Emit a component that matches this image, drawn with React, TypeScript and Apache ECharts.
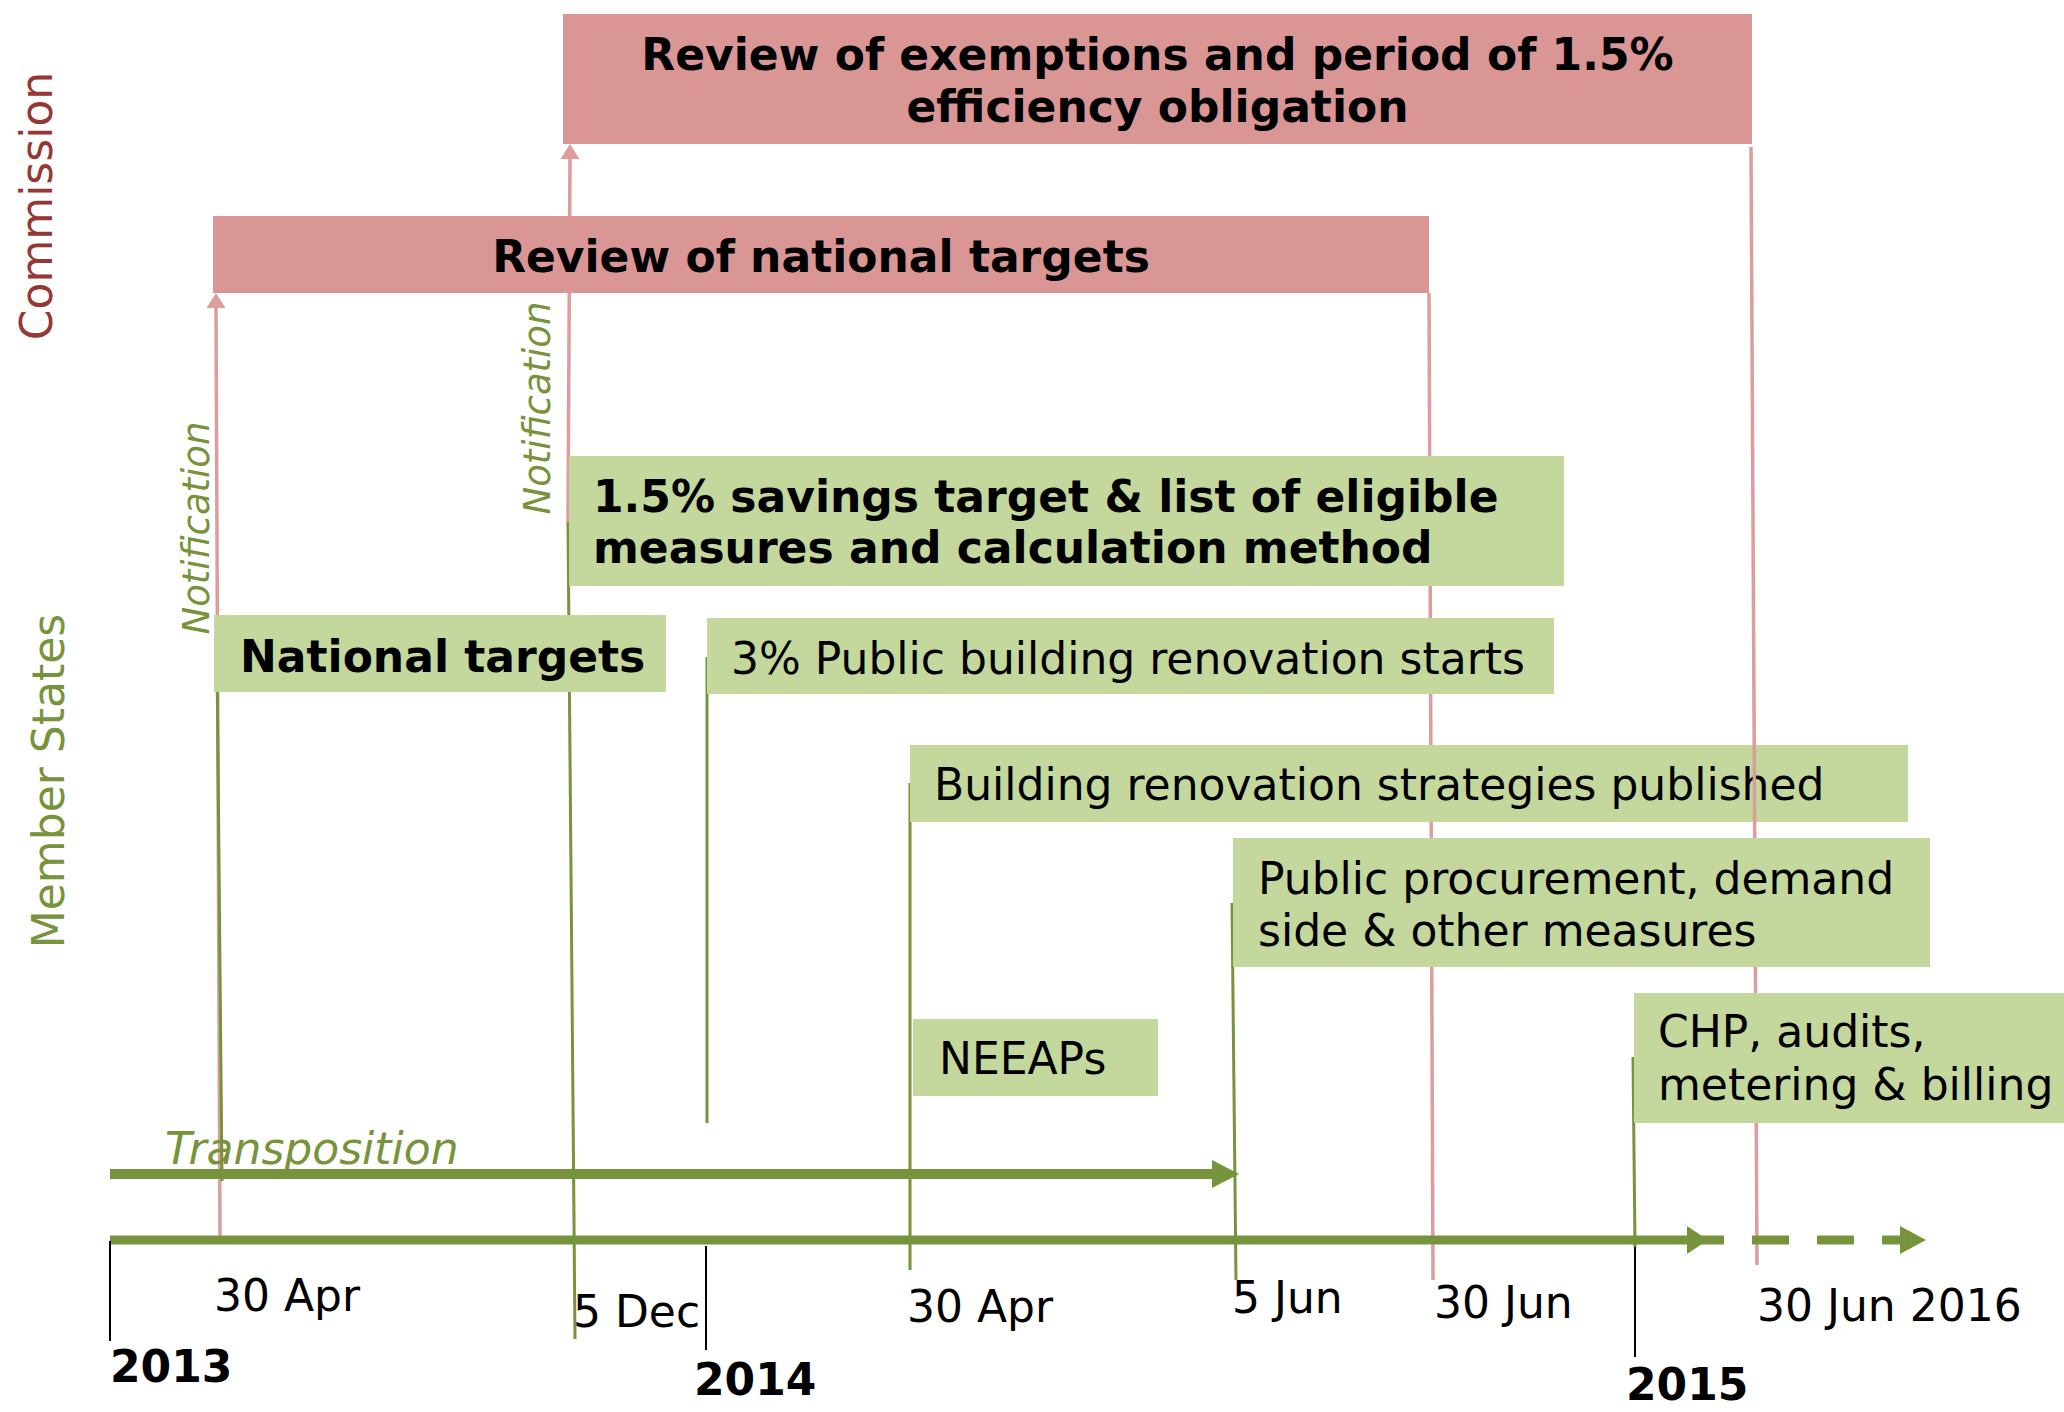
import React, { useEffect, useRef } from 'react';
import * as echarts from 'echarts';

// Reference canvas size (timeline units == reference pixels)
const W = 2064;
const H = 1412;

// ---------------- DATA ----------------
// Milestone date labels along the timeline
const milestoneDates = ['30 Apr', '5 Dec', '30 Apr', '5 Jun', '30 Jun', '30 Jun 2016'];
const milestoneLabelX = [214, 573, 907, 1232, 1434, 1757];
const milestoneLabelY = [1311, 1327, 1322, 1313, 1318, 1321];

// Year ticks
const years = ['2013', '2014', '2015'];
const yearTickX = [110, 706, 1635];
const yearTickTop = [1241, 1246, 1247];
const yearTickBottom = [1341, 1350, 1357];
const yearLabelX = [110, 694, 1626];
const yearLabelY = [1382, 1395, 1400];

// Commission actions (pink bars)
const commissionTitles = [
  ['Review of exemptions and period of 1.5%', 'efficiency obligation'],
  ['Review of national targets'],
];
const commissionStart = [563, 213];
const commissionEnd = [1752, 1429];
const commissionTop = [14, 216];
const commissionBottom = [144, 293];
const commissionBaselines = [[70, 122], [272]];

// Member State actions (green bars)
const msTitles = [
  ['1.5% savings target & list of eligible', 'measures and calculation method'],
  ['National targets'],
  ['3% Public building renovation starts'],
  ['Building renovation strategies published'],
  ['Public procurement, demand', 'side & other measures'],
  ['NEEAPs'],
  ['CHP, audits,', 'metering & billing'],
];
const msStart = [569, 214, 707, 910, 1233, 913, 1634];
const msEnd = [1564, 666, 1554, 1908, 1930, 1158, 2064];
const msTop = [456, 615, 618, 745, 838, 1019, 993];
const msBottom = [586, 692, 694, 822, 967, 1096, 1123];
const msTextX = [593, 240, 731, 934, 1258, 939, 1658];
const msBaselines = [[512, 563], [672], [674], [800], [894, 946], [1074], [1047, 1100]];
const msBold = [true, true, false, false, false, false, false];
const msBackLayer = [false, false, false, true, false, false, false];

// Commission deadline connectors (pink): bottom point -> top point
const pinkX0 = [220, 568, 1433, 1757];
const pinkY0 = [1240, 522, 1280, 1265];
const pinkX1 = [216, 570, 1429, 1751];
const pinkY1 = [293, 144, 293, 147];
const pinkArrow = [true, true, false, false];
const pinkFront = [false, false, false, true];

// Member State deadline connectors (green): top point -> bottom point
const greenX0 = [217, 568, 707, 910, 1232, 1633];
const greenY0 = [654, 522, 657, 783, 903, 1057];
const greenX1 = [222, 575, 707, 910, 1236, 1635];
const greenY1 = [1181, 1339, 1123, 1270, 1280, 1247];

// Timeline arrows
const mainLineY = 1240;
const mainStart = 110;
const mainSolidEnd = 1687;
const mainDashEnd = 1900;
const transpositionY = 1174;
const transpositionStart = 110;
const transpositionEnd = 1212;

// Side / rotated labels
const sideLabels = ['Commission', 'Member States'];
const sideLabelBaseX = [52, 64];
const sideLabelCenterY = [206, 781];
const notificationBaseX = [209, 550];
const notificationCenterY = [528, 408];
const transpositionLabel = 'Transposition';
const transpositionLabelX = 165;
const transpositionLabelY = 1164;

// ---------------- STYLES ----------------
const PINK_FILL = '#d99694';
const PINK_LINE = '#dd9d9c';
const GREEN_FILL = '#c4d79c';
const GREEN = '#77933c';
const RED_TEXT = '#953735';
const FONT = '"DejaVu Sans", Verdana, sans-serif';
const FS = 44;

type TextSpec = {
  text: string;
  x: number;
  y: number;
  size: number;
  weight?: string;
  italic?: boolean;
  color: string;
  align: 'left' | 'center' | 'right';
  rotate?: boolean;
};

function textEl(api: any, t: TextSpec) {
  const p = api.coord([t.x, t.y]);
  const off = 0.346 * t.size;
  let x = p[0];
  let y = p[1];
  if (t.rotate) x = p[0] - off;
  else y = p[1] - off;
  return {
    type: 'text',
    x,
    y,
    rotation: t.rotate ? Math.PI / 2 : 0,
    style: {
      text: t.text,
      fill: t.color,
      fontSize: t.size,
      fontFamily: FONT,
      fontWeight: t.weight || 'normal',
      fontStyle: t.italic ? 'italic' : 'normal',
      align: t.align,
      textAlign: t.align,
      verticalAlign: 'middle',
      textVerticalAlign: 'middle',
    },
  };
}

function rectEl(api: any, x0: number, y0: number, x1: number, y1: number, fill: string) {
  const p0 = api.coord([x0, y0]);
  const p1 = api.coord([x1, y1]);
  return {
    type: 'rect',
    shape: { x: p0[0], y: p0[1], width: p1[0] - p0[0], height: p1[1] - p0[1] },
    style: { fill },
  };
}

function lineEl(api: any, x0: number, y0: number, x1: number, y1: number, stroke: string, lineWidth: number, dash?: number[]) {
  const p0 = api.coord([x0, y0]);
  const p1 = api.coord([x1, y1]);
  const style: any = { stroke, lineWidth };
  if (dash) style.lineDash = dash;
  return { type: 'line', shape: { x1: p0[0], y1: p0[1], x2: p1[0], y2: p1[1] }, style };
}

function headRight(api: any, xBase: number, y: number, len: number, half: number, fill: string) {
  const b = api.coord([xBase, y]);
  return {
    type: 'polygon',
    shape: { points: [[b[0], b[1] - half], [b[0] + len, b[1]], [b[0], b[1] + half]] },
    style: { fill },
  };
}

function headUp(api: any, x: number, yTip: number, len: number, half: number, fill: string) {
  const t = api.coord([x, yTip]);
  return {
    type: 'polygon',
    shape: { points: [[t[0], t[1]], [t[0] - half, t[1] + len], [t[0] + half, t[1] + len]] },
    style: { fill },
  };
}

const idx = (n: number) => Array.from({ length: n }, (_, i) => i);

function pinkSeries(front: boolean, z: number) {
  const ids = idx(pinkX0.length).filter((i) => pinkFront[i] === front);
  return {
    type: 'custom',
    z,
    silent: true,
    clip: false,
    data: ids.map((i) => [pinkX0[i], pinkY0[i], pinkX1[i], pinkY1[i], i]),
    renderItem: (_p: any, api: any) => {
      const i = api.value(4);
      const children: any[] = [];
      const topY = pinkArrow[i] ? pinkY1[i] + 14 : pinkY1[i];
      children.push(lineEl(api, pinkX0[i], pinkY0[i], pinkX1[i], topY, PINK_LINE, 3.5));
      if (pinkArrow[i]) children.push(headUp(api, pinkX1[i], pinkY1[i], 15, 9.5, PINK_LINE));
      return { type: 'group', children };
    },
  };
}

function msBoxSeries(back: boolean, z: number) {
  const ids = idx(msTitles.length).filter((i) => msBackLayer[i] === back);
  return {
    type: 'custom',
    z,
    silent: true,
    clip: false,
    data: ids.map((i) => [msStart[i], msTop[i], msEnd[i], msBottom[i], i]),
    renderItem: (_p: any, api: any) => {
      const i = api.value(4);
      const children: any[] = [rectEl(api, msStart[i], msTop[i], msEnd[i], msBottom[i], GREEN_FILL)];
      msTitles[i].forEach((t, k) => {
        children.push(
          textEl(api, {
            text: t,
            x: msTextX[i],
            y: msBaselines[i][k],
            size: FS,
            weight: msBold[i] ? 'bold' : 'normal',
            color: '#000',
            align: 'left',
          })
        );
      });
      return { type: 'group', children };
    },
  };
}

const option: any = {
  animation: false,
  backgroundColor: '#ffffff',
  grid: { left: 0, right: 0, top: 0, bottom: 0 },
  xAxis: { type: 'value', min: 0, max: W, show: false },
  yAxis: { type: 'value', min: 0, max: H, inverse: true, show: false },
  series: [
    pinkSeries(false, 1),
    {
      type: 'custom',
      z: 1,
      silent: true,
      clip: false,
      data: idx(greenX0.length).map((i) => [greenX0[i], greenY0[i], greenX1[i], greenY1[i]]),
      renderItem: (_p: any, api: any) =>
        lineEl(api, api.value(0), api.value(1), api.value(2), api.value(3), GREEN, 3),
    },
    msBoxSeries(true, 2),
    pinkSeries(true, 3),
    {
      type: 'custom',
      z: 4,
      silent: true,
      clip: false,
      data: idx(commissionTitles.length).map((i) => [commissionStart[i], commissionTop[i], commissionEnd[i], commissionBottom[i]]),
      renderItem: (p: any, api: any) => {
        const i = p.dataIndex;
        const children: any[] = [rectEl(api, commissionStart[i], commissionTop[i], commissionEnd[i], commissionBottom[i], PINK_FILL)];
        const cx = (commissionStart[i] + commissionEnd[i]) / 2;
        commissionTitles[i].forEach((t, k) => {
          children.push(textEl(api, { text: t, x: cx, y: commissionBaselines[i][k], size: FS, weight: 'bold', color: '#000', align: 'center' }));
        });
        return { type: 'group', children };
      },
    },
    msBoxSeries(false, 4),
    // timeline arrows
    {
      type: 'custom',
      z: 5,
      silent: true,
      clip: false,
      data: [[mainStart, mainLineY, mainDashEnd, transpositionY]],
      renderItem: (_p: any, api: any) => ({
        type: 'group',
        children: [
          lineEl(api, transpositionStart, transpositionY, transpositionEnd, transpositionY, GREEN, 10),
          headRight(api, transpositionEnd, transpositionY, 27, 14, GREEN),
          lineEl(api, mainSolidEnd, mainLineY, mainDashEnd, mainLineY, GREEN, 9, [37, 28]),
          headRight(api, mainDashEnd, mainLineY, 26, 14, GREEN),
          lineEl(api, mainStart, mainLineY, mainSolidEnd, mainLineY, GREEN, 9),
          headRight(api, mainSolidEnd, mainLineY, 21, 14, GREEN),
        ],
      }),
    },
    // year ticks
    {
      type: 'custom',
      z: 5,
      silent: true,
      clip: false,
      data: idx(years.length).map((i) => [yearTickX[i], yearTickTop[i], yearTickBottom[i]]),
      renderItem: (_p: any, api: any) =>
        lineEl(api, api.value(0), api.value(1), api.value(0), api.value(2), '#000', 2),
    },
    // labels
    {
      type: 'custom',
      z: 6,
      silent: true,
      clip: false,
      data: [[0, 0]],
      renderItem: (_p: any, api: any) => {
        const children: any[] = [];
        milestoneDates.forEach((t, i) =>
          children.push(textEl(api, { text: t, x: milestoneLabelX[i], y: milestoneLabelY[i], size: FS, color: '#000', align: 'left' }))
        );
        years.forEach((t, i) =>
          children.push(textEl(api, { text: t, x: yearLabelX[i], y: yearLabelY[i], size: FS, weight: 'bold', color: '#000', align: 'left' }))
        );
        children.push(
          textEl(api, { text: transpositionLabel, x: transpositionLabelX, y: transpositionLabelY, size: FS, italic: true, color: GREEN, align: 'left' })
        );
        notificationBaseX.forEach((x, i) =>
          children.push(textEl(api, { text: 'Notification', x, y: notificationCenterY[i], size: 37, italic: true, color: GREEN, align: 'center', rotate: true }))
        );
        sideLabels.forEach((t, i) =>
          children.push(
            textEl(api, { text: t, x: sideLabelBaseX[i], y: sideLabelCenterY[i], size: 44, color: i === 0 ? RED_TEXT : GREEN, align: 'center', rotate: true })
          )
        );
        return { type: 'group', children };
      },
    },
  ],
};

export default function App() {
  const ref = useRef<HTMLDivElement>(null);
  useEffect(() => {
    if (!ref.current) return;
    const chart = echarts.init(ref.current, undefined, { renderer: 'svg', width: W, height: H });
    chart.setOption(option);
    return () => chart.dispose();
  }, []);
  return (
    <div
      ref={ref}
      style={{ position: 'absolute', left: 0, top: 0, width: W, height: H, background: '#fff' }}
    />
  );
}
